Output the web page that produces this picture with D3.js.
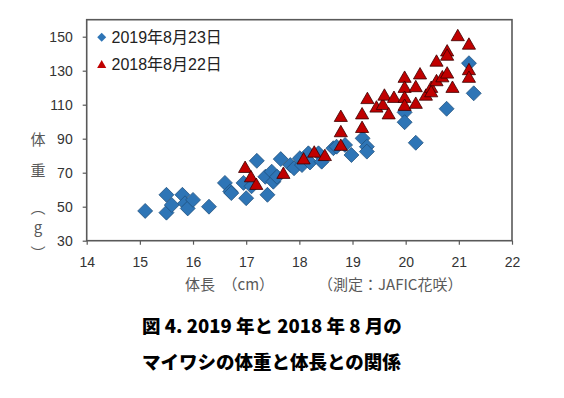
<!DOCTYPE html>
<html>
<head>
<meta charset="utf-8">
<script src="https://cdn.jsdelivr.net/npm/d3@7"></script>
<style>
  body { margin: 0; background: #fff; }
  svg { display: block; }
</style>
</head>
<body>
<div id="chart"></div>
<script>
// body length (cm), body weight (g)
const length2019 = [15.1, 15.5, 15.5, 15.6, 15.8, 15.85, 15.9, 16.0, 16.3, 16.6, 16.7, 16.72, 17.0, 16.95, 17.2,
  17.1, 17.36, 17.48, 17.4, 17.51, 17.65, 17.58, 17.83, 17.9, 18.01, 18.05, 18.17, 18.2, 18.36, 18.42,
  18.64, 18.7, 18.86, 18.98, 19.19, 19.27, 19.27, 19.98, 19.98, 20.19, 20.77, 21.19, 21.28];
const weight2019 = [47.5, 57, 46.5, 51, 57, 52, 49, 54, 50, 64, 59, 58, 55, 64, 77,
  62, 67.6, 70.6, 57, 64.7, 78, 67.6, 74.5, 72.6, 78.5, 74.5, 81.4, 76, 81.4, 76.5,
  84.4, 85.3, 86.3, 80.4, 90.2, 85.3, 82.4, 105.5, 99.7, 87.6, 107.6, 134.4, 116.7];

const length2018 = [16.98, 17.09, 17.19, 17.7, 18.08, 18.28, 18.48, 18.78, 18.78, 18.78, 19.18, 19.18, 19.28,
  19.45, 19.57, 19.6, 19.68, 19.78, 19.98, 19.98, 19.98, 19.98, 20.19, 20.19, 20.27, 20.38, 20.48, 20.48,
  20.58, 20.58, 20.69, 20.78, 20.78, 20.78, 20.88, 20.98, 21.19, 21.19, 21.19];
const weight2018 = [73.5, 68, 63.5, 70, 78.5, 82.5, 80.5, 86.5, 94.5, 103.5, 97, 105, 114,
  109, 110.5, 116, 105, 114.7, 126.5, 120.6, 114.7, 110, 121, 111.2, 128.5, 116, 120.6, 118,
  136, 124.5, 126.8, 129, 142, 139.5, 120.6, 151, 146, 131, 126.5];

const xTicks = [14, 15, 16, 17, 18, 19, 20, 21, 22];
const yTicks = [30, 50, 70, 90, 110, 130, 150];
const seriesNames = ['2019年8月23日', '2018年8月22日'];

const width = 564, height = 398;
const svg = d3.select('#chart').append('svg')
  .attr('width', width)
  .attr('height', height);

const x = d3.scaleLinear().domain([14, 22]).range([86.7, 512]);
const y = d3.scaleLinear().domain([30, 160]).range([240.7, 19.7]);

// triangle centred on its bounding box, like Excel markers
const triangleBox = {
  draw(ctx, size) {
    const s = Math.sqrt(size * 4 / Math.sqrt(3));
    const h = s * Math.sqrt(3) / 2;
    ctx.moveTo(0, -h / 2);
    ctx.lineTo(s / 2, h / 2);
    ctx.lineTo(-s / 2, h / 2);
    ctx.closePath();
  }
};

const tickFont = '"Liberation Sans", Arial, sans-serif';
const cjkFont = '"Noto Sans CJK JP", sans-serif';

// x axis
const gx = svg.append('g')
  .attr('transform', `translate(0,${y(30)})`)
  .call(d3.axisBottom(x).tickValues(xTicks).tickSizeInner(4).tickSizeOuter(0).tickPadding(12));
gx.select('.domain').remove();
gx.selectAll('line').attr('stroke', '#595959').attr('stroke-width', 1.2);
gx.selectAll('text')
  .style('font-family', tickFont)
  .style('font-size', '14px')
  .attr('fill', '#333');

// y axis
const gy = svg.append('g')
  .attr('transform', `translate(${x(14)},0)`)
  .call(d3.axisLeft(y).tickValues(yTicks).tickSizeInner(4).tickSizeOuter(0).tickPadding(10));
gy.select('.domain').remove();
gy.selectAll('line').attr('stroke', '#595959').attr('stroke-width', 1.2);
gy.selectAll('text')
  .style('font-family', tickFont)
  .style('font-size', '14px')
  .attr('fill', '#333');

// plot frame
svg.append('rect')
  .attr('x', x(14))
  .attr('y', y(160))
  .attr('width', x(22) - x(14))
  .attr('height', y(30) - y(160))
  .attr('fill', 'none')
  .attr('stroke', '#595959')
  .attr('stroke-width', 1.6);

// 2019 diamonds
const d2019 = length2019.map((v, i) => [v, weight2019[i]]);
svg.append('g').selectAll('path')
  .data(d2019)
  .enter()
  .append('path')
  .attr('d', d3.symbol(d3.symbolSquare, 112))
  .attr('transform', d => `translate(${x(d[0])},${y(d[1])}) rotate(45)`)
  .attr('fill', '#2E75B6')
  .attr('stroke', '#1F4E79')
  .attr('stroke-width', 0.7);

// 2018 triangles
const d2018 = length2018.map((v, i) => [v, weight2018[i]]);
svg.append('g').selectAll('path')
  .data(d2018)
  .enter()
  .append('path')
  .attr('d', d3.symbol(triangleBox, 75))
  .attr('transform', d => `translate(${x(d[0])},${y(d[1])})`)
  .attr('fill', '#C00000')
  .attr('stroke', '#3a0000')
  .attr('stroke-width', 0.8);

// legend
const legend = svg.append('g');
legend.append('path')
  .attr('d', d3.symbol(d3.symbolSquare, 40))
  .attr('transform', 'translate(101.7,37.3) rotate(45)')
  .attr('fill', '#2E75B6');
legend.append('path')
  .attr('d', d3.symbol(triangleBox, 36))
  .attr('transform', 'translate(101.7,64)')
  .attr('fill', '#C00000');
legend.selectAll('text')
  .data(seriesNames)
  .enter()
  .append('text')
  .attr('x', 111.5)
  .attr('y', (d, i) => 37.3 + i * 26.7)
  .attr('dy', '0.36em')
  .style('font-family', `"Liberation Sans", ${cjkFont}`)
  .style('font-size', '16px')
  .attr('fill', '#222')
  .text(d => d);

// y axis title (vertical)
const yTitle = [['体', 140], ['重', 171], ['︵', 208], ['g', 228], ['︶', 254]];
svg.append('g').selectAll('text')
  .data(yTitle)
  .enter()
  .append('text')
  .attr('x', 38)
  .attr('y', d => d[1])
  .attr('dy', '0.35em')
  .attr('text-anchor', 'middle')
  .style('font-family', cjkFont)
  .style('font-size', '15px')
  .attr('fill', '#595959')
  .text(d => d[0]);

// x axis title
svg.append('text')
  .attr('x', 185)
  .attr('y', 290)
  .style('font-family', cjkFont)
  .style('font-size', '15px')
  .attr('fill', '#595959')
  .text('体長　（cm）');
svg.append('text')
  .attr('x', 318)
  .attr('y', 290)
  .style('font-family', cjkFont)
  .style('font-size', '15px')
  .attr('fill', '#595959')
  .text('（測定：JAFIC花咲）');

// caption
const caption = ['図 4. 2019 年と 2018 年 8 月の', 'マイワシの体重と体長との関係'];
svg.append('g').selectAll('text')
  .data(caption)
  .enter()
  .append('text')
  .attr('x', 142)
  .attr('y', (d, i) => 333 + i * 36)
  .style('font-family', cjkFont)
  .style('font-weight', 900)
  .style('font-size', '18.5px')
  .attr('fill', '#000')
  .text(d => d);
</script>
</body>
</html>
